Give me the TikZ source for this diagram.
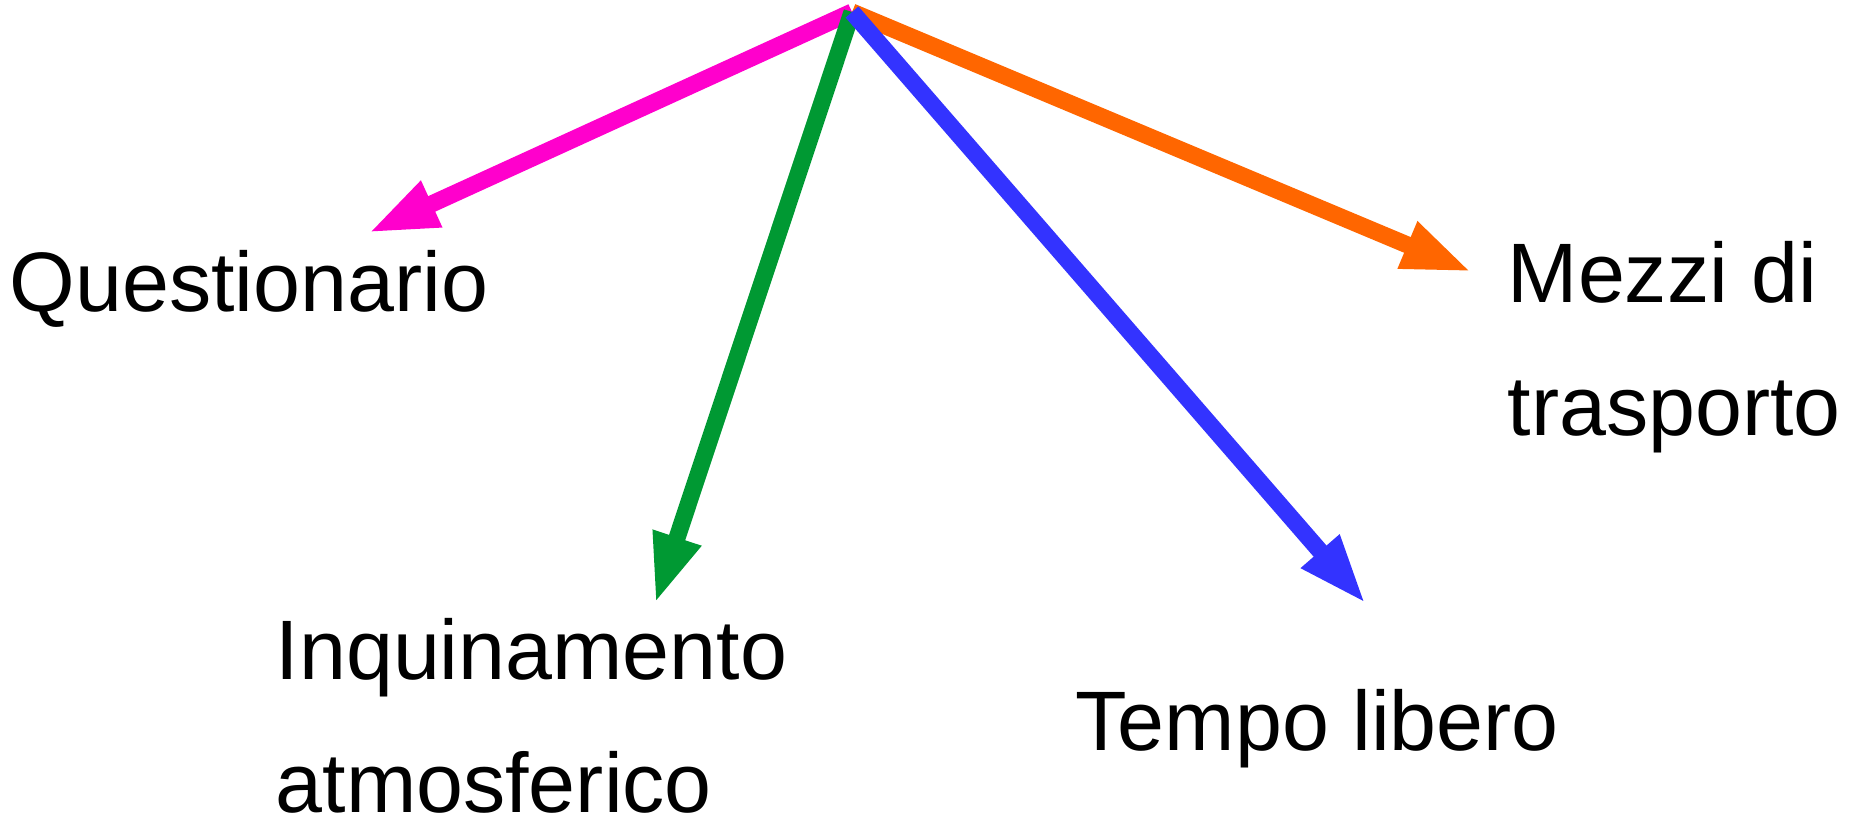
\documentclass[tikz,border=0pt]{standalone}
\usepackage{fontspec}
\setmainfont{Liberation Sans}
\usetikzlibrary{arrows.meta}
\definecolor{pinkarr}{HTML}{FF00CC}
\definecolor{orangearr}{HTML}{FF6600}
\definecolor{greenarr}{HTML}{009933}
\definecolor{bluearr}{HTML}{3333FF}
\tikzset{
  arr/.style={-{Triangle[length=0.7cm,width=0.46cm]},line width=0.17cm},
  lbl/.style={inner sep=0pt,anchor=base west,align=left,font=\fontsize{24}{37.6}\selectfont}
}
\begin{document}
\begin{tikzpicture}[x=0.01cm,y=-0.01cm]
\useasboundingbox (0,0) rectangle (1866,821);

\coordinate (top) at (852,12);
\coordinate (tq) at (368,233);
\coordinate (tm) at (1472,272);
\coordinate (ti) at (655,604);
\coordinate (tt) at (1366,604);

\draw [arr,pinkarr] (top) -- (tq);
\draw [arr,orangearr] (top) -- (tm);
\draw [arr,greenarr] (top) -- (ti);
\draw [arr,bluearr] (top) -- (tt);

\node[lbl] (quest) at (9,311) {Questionario};
\node[lbl] (mezzi) at (1507,435) {Mezzi di\\trasporto};
\node[lbl] (inquin) at (275,812) {Inquinamento\\atmosferico};
\node[lbl] (tempo) at (1075,750) {Tempo libero};

\end{tikzpicture}
\end{document}
